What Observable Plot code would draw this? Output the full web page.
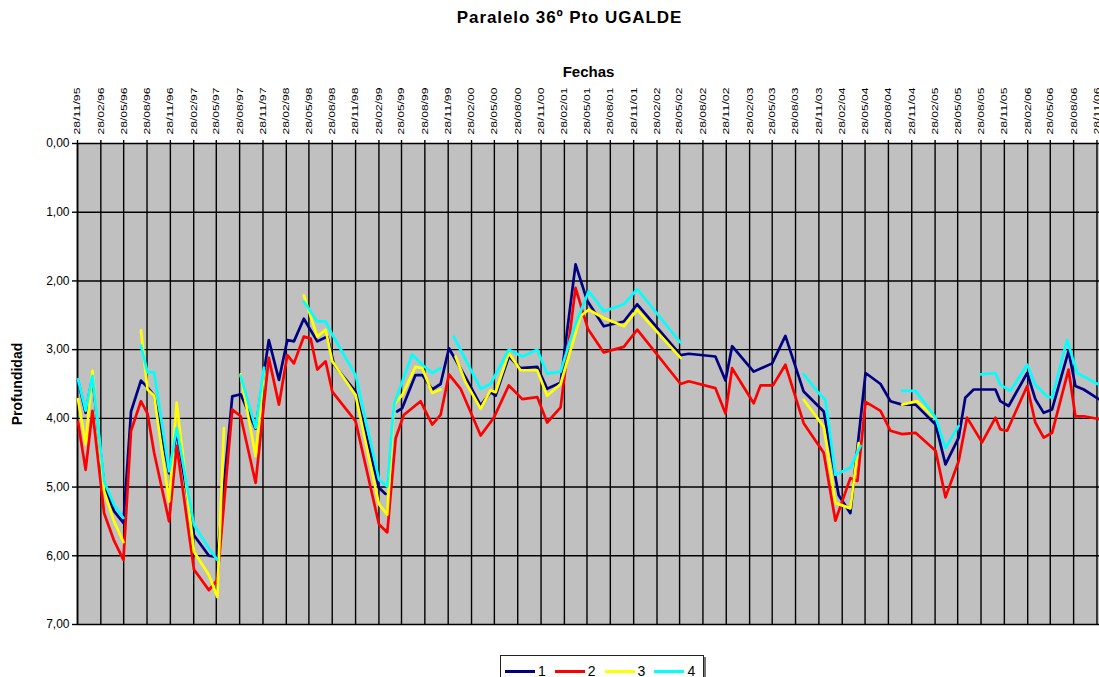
<!DOCTYPE html>
<html>
<head>
<meta charset="utf-8">
<script src="https://cdn.jsdelivr.net/npm/d3@7"></script>
<script src="https://cdn.jsdelivr.net/npm/@observablehq/plot@0.6"></script>
<style>
  body { margin: 0; background: #fff; font-family: "Liberation Sans", Arial, sans-serif; }
  #title { width: 1099px; height: 40px; box-sizing: border-box; padding-left: 40px; text-align: center;
           font-weight: bold; font-size: 17px; letter-spacing: 0.9px; line-height: 36px; color: #000; }
  #chart svg { display: block; }
  #legend { margin-left: 500px; margin-top: 21px; width: 204px; height: 32px; box-sizing: border-box;
            border: 1.5px solid #222; box-shadow: 2px 2px 0 #777; display: flex; align-items: center;
            padding-left: 4px; font-size: 14px; color: #000; }
  #legend .item { display: flex; align-items: center; margin-right: 9px; }
  #legend .sw { width: 30px; height: 3px; margin-right: 3px; }
</style>
</head>
<body>
<div id="title">Paralelo 36º Pto UGALDE</div>
<div id="chart"></div>
<div id="legend"></div>
<script>
// ---------- DATA ----------
const series = ["1", "2", "3", "4"];
const colores = ["#000080", "#ff0000", "#ffff00", "#00ffff"];

const etiquetasFechas = ["28/11/95","28/02/96","28/05/96","28/08/96","28/11/96","28/02/97","28/05/97","28/08/97","28/11/97",
  "28/02/98","28/05/98","28/08/98","28/11/98","28/02/99","28/05/99","28/08/99","28/11/99","28/02/00","28/05/00","28/08/00",
  "28/11/00","28/02/01","28/05/01","28/08/01","28/11/01","28/02/02","28/05/02","28/08/02","28/11/02","28/02/03","28/05/03",
  "28/08/03","28/11/03","28/02/04","28/05/04","28/08/04","28/11/04","28/02/05","28/05/05","28/08/05","28/11/05","28/02/06",
  "28/05/06","28/08/06","28/11/06"];
const etiquetasProf = [0, 1, 2, 3, 4, 5, 6, 7];

// serie 1
const fechas1 = ["1995-11-30","1995-12-30","1996-01-26","1996-03-12","1996-04-20","1996-05-27","1996-06-26","1996-08-04",
  "1996-08-30","1996-09-25","1996-11-23","1996-12-23","1997-03-01","1997-04-29","1997-06-01","1997-07-30","1997-09-01",
  "1997-10-30","1997-12-21","1998-01-30","1998-03-04","1998-03-30","1998-05-08","1998-06-30","1998-08-09","1998-09-04",
  "1998-11-28","1999-02-28","1999-03-26",null,"1999-05-11","1999-05-31","1999-07-22","1999-08-18","1999-09-26","1999-10-29",
  "1999-12-01","2000-02-04","2000-04-04","2000-05-13","2000-06-02","2000-07-24","2000-09-08","2000-11-13","2000-12-22",
  "2001-02-13","2001-04-13","2001-05-29","2001-08-02","2001-10-20","2001-12-12","2002-06-01","2002-07-03","2002-10-16",
  "2002-11-25","2002-12-21","2003-03-16","2003-05-28","2003-07-19","2003-09-29","2003-12-17","2004-02-14","2004-03-31",
  "2004-05-30","2004-07-28","2004-09-05","2004-10-21","2004-12-13","2005-03-02","2005-04-10","2005-06-01","2005-06-27",
  "2005-07-30","2005-10-24","2005-11-12","2005-12-15","2006-02-26","2006-03-30","2006-05-02","2006-06-04","2006-08-08",
  "2006-09-04","2006-10-07","2006-12-05"];
const prof1 = [3.45,3.92,3.40,4.98,5.35,5.52,3.90,3.45,
  3.55,3.67,4.80,4.20,5.70,6.00,6.02,3.68,3.65,
  4.15,2.86,3.44,2.86,2.88,2.55,2.88,2.81,3.22,
  3.61,5.01,5.10,null,3.90,3.85,3.37,3.37,3.58,3.50,
  2.98,3.40,3.81,3.62,3.67,3.10,3.27,3.25,3.57,
  3.48,1.76,2.29,2.66,2.59,2.34,3.08,3.06,3.10,
  3.45,2.95,3.32,3.20,2.80,3.61,3.90,5.12,5.38,
  3.34,3.50,3.75,3.80,3.80,4.09,4.67,4.28,3.70,
  3.58,3.58,3.75,3.82,3.34,3.72,3.92,3.87,3.02,
  3.53,3.58,3.72];

// serie 2
const fechas2 = ["1995-11-30","1995-12-30","1996-01-26","1996-03-12","1996-04-20","1996-05-27","1996-06-26","1996-08-04",
  "1996-08-30","1996-09-25","1996-11-23","1996-12-23","1997-03-01","1997-04-29","1997-06-01","1997-07-30","1997-09-01",
  "1997-10-30","1997-12-21","1998-01-30","1998-03-04","1998-03-30","1998-05-08","1998-06-04","1998-06-30","1998-08-02",
  "1998-08-28","1998-11-28","1999-02-28","1999-04-02","1999-05-05","1999-06-06","1999-08-11","1999-09-26","1999-10-29",
  "1999-12-01","2000-01-16","2000-04-04","2000-05-26","2000-07-24","2000-09-15","2000-11-13","2000-12-22","2001-02-13",
  "2001-04-13","2001-06-01","2001-08-02","2001-10-20","2001-12-12","2002-06-01","2002-07-03","2002-10-16","2002-11-25",
  "2002-12-21","2003-03-16","2003-04-12","2003-05-31","2003-07-19","2003-09-29","2003-12-17","2004-02-01","2004-03-31",
  "2004-04-28","2004-05-30","2004-07-28","2004-09-05","2004-10-21","2004-12-13","2005-03-02","2005-04-10","2005-06-01",
  "2005-07-04","2005-09-01","2005-10-24","2005-11-12","2005-12-09","2006-02-26","2006-03-30","2006-05-02","2006-06-04",
  "2006-08-08","2006-09-04","2006-10-07","2006-12-05"];
const prof2 = [4.05,4.75,3.89,5.38,5.78,6.06,4.18,3.75,
  3.93,4.50,5.50,4.40,6.20,6.50,6.35,3.87,3.97,
  4.94,3.12,3.80,3.08,3.20,2.81,2.84,3.29,3.17,
  3.61,4.04,5.54,5.66,4.29,3.95,3.75,4.09,3.95,
  3.36,3.57,4.25,3.99,3.52,3.72,3.69,4.06,3.84,
  2.10,2.70,3.04,2.96,2.71,3.50,3.46,3.56,3.93,
  3.27,3.78,3.52,3.52,3.22,4.07,4.50,5.49,4.87,
  4.91,3.76,3.89,4.18,4.23,4.21,4.47,5.15,4.62,
  3.99,4.35,3.99,4.16,4.18,3.53,4.06,4.28,4.21,
  3.29,3.97,3.97,4.01];

// serie 3
const fechas3 = ["1995-11-30","1995-12-30","1996-01-26","1996-03-12","1996-04-20","1996-05-27",null,"1996-08-04",
  "1996-08-30","1996-09-25","1996-11-23","1996-12-23","1997-03-01","1997-04-29","1997-06-01","1997-06-27",null,
  "1997-09-01","1997-10-30","1997-12-02",null,"1998-05-08","1998-06-30","1998-08-02","1998-08-28","1998-11-28",
  "1999-02-28","1999-04-02","1999-04-28","1999-05-31","1999-07-22","1999-08-18","1999-09-26","1999-10-29",null,
  "1999-12-27","2000-02-04","2000-04-04","2000-05-13","2000-06-02","2000-07-24","2000-09-08","2000-11-13","2000-12-22",
  "2001-02-13","2001-05-03","2001-06-04","2001-08-02","2001-10-20","2001-12-12","2002-06-01",null,"2003-09-29",
  "2003-12-17","2004-02-01","2004-03-31","2004-05-03",null,"2004-10-21","2004-12-19","2005-03-02"];
const prof3 = [3.72,4.38,3.31,5.06,5.50,5.80,null,2.72,
  3.58,3.67,5.21,3.77,5.94,6.28,6.60,4.14,null,
  3.36,4.55,3.30,null,2.21,2.81,2.71,3.17,3.66,
  5.25,5.40,3.80,3.66,3.25,3.27,3.63,3.58,null,
  3.10,3.47,3.86,3.59,3.62,3.05,3.30,3.30,3.67,
  3.50,2.51,2.42,2.54,2.66,2.42,3.12,null,3.73,
  4.12,5.23,5.31,4.36,null,3.80,3.75,4.01];

// serie 4
const fechas4 = ["1995-11-30","1995-12-30","1996-01-26","1996-03-12","1996-04-20","1996-05-27",null,"1996-08-04",
  "1996-08-30","1996-09-25","1996-11-23","1996-12-23","1997-03-01","1997-04-29","1997-06-01",null,"1997-09-01",
  "1997-10-30","1997-12-02",null,"1998-05-08","1998-06-30","1998-08-02","1998-08-28","1998-11-28","1999-02-28",
  "1999-04-02","1999-04-28","1999-07-09","1999-08-18","1999-09-26","1999-10-29",null,"1999-12-20","2000-04-04",
  "2000-05-13","2000-07-24","2000-09-15","2000-11-13","2000-12-22","2001-02-13","2001-04-06","2001-06-04","2001-08-02",
  "2001-10-20","2001-12-12","2002-06-01",null,"2003-09-29","2003-12-04","2003-12-24","2004-02-01","2004-03-31",
  "2004-05-10",null,"2004-10-21","2004-12-13","2005-03-02","2005-04-10","2005-06-01",null,"2005-08-26","2005-10-24",
  "2005-11-12","2005-12-22","2006-02-26","2006-03-30","2006-05-15","2006-06-04","2006-08-02","2006-09-11","2006-12-05"];
const prof4 = [3.43,3.89,3.38,4.92,5.26,5.45,null,2.94,
  3.33,3.33,4.77,4.14,5.55,5.89,6.06,null,3.38,
  4.14,3.26,null,2.30,2.59,2.59,2.78,3.37,4.89,
  4.99,3.80,3.07,3.22,3.34,3.27,null,2.81,3.57,
  3.50,3.00,3.10,3.00,3.35,3.32,2.69,2.15,2.44,
  2.34,2.12,2.90,null,3.36,3.66,3.73,4.82,4.72,
  4.40,null,3.60,3.60,3.99,4.43,4.11,null,3.36,3.34,
  3.51,3.60,3.22,3.51,3.68,3.70,2.86,3.34,3.51];

// ---------- BUILD ----------
const parseISO = d3.utcParse("%Y-%m-%d");
const parseEtiq = d3.utcParse("%d/%m/%y");
const fmtEtiq = d3.utcFormat("%d/%m/%y");
const tickDates = etiquetasFechas.map(parseEtiq);

function filas(fechas, prof, serie) {
  let prev = null;
  return fechas.map((f, i) => {
    const fecha = f ? parseISO(f) : prev;
    prev = fecha;
    return { fecha, prof: prof[i], serie };
  });
}
const datos = [
  filas(fechas1, prof1, series[0]),
  filas(fechas2, prof2, series[1]),
  filas(fechas3, prof3, series[2]),
  filas(fechas4, prof4, series[3])
];

const xStart = parseISO("1995-11-28");
const xEnd = parseISO("2006-12-08");

const chart = Plot.plot({
  width: 1099,
  height: 594,
  marginTop: 103,
  marginBottom: 10,
  marginLeft: 77,
  marginRight: 0,
  style: { fontFamily: "'Liberation Sans', Arial, sans-serif", background: "white", overflow: "visible", color: "#000" },
  x: { type: "utc", domain: [xStart, xEnd] },
  y: { domain: [0, 7], reverse: true },
  marks: [
    Plot.frame({ fill: "#c0c0c0", stroke: null }),
    Plot.gridX(tickDates, { stroke: "#000", strokeOpacity: 1, strokeWidth: 1.4 }),
    Plot.gridY(etiquetasProf, { stroke: "#000", strokeOpacity: 1, strokeWidth: 1.4 }),
    Plot.ruleX([xStart], { stroke: "#000", strokeWidth: 1.6 }),
    ...datos.map((d, i) => Plot.line(d, { x: "fecha", y: "prof", stroke: colores[i], strokeWidth: 2.7, curve: "linear" })),
    Plot.axisX(tickDates, {
      anchor: "top", tickSize: 4, tickPadding: 5, tickRotate: -90, fontSize: 9,
      tickFormat: (d) => etiquetasFechas[tickDates.findIndex(t => +t === +d)] ?? fmtEtiq(d),
      label: null, stroke: "#000", strokeWidth: 1.4
    }),
    Plot.axisY(etiquetasProf, {
      anchor: "left", tickSize: 5, tickPadding: 3, fontSize: 12,
      tickFormat: (d) => d.toFixed(2).replace(".", ","), label: null, stroke: "#000", strokeWidth: 1.4
    }),
    Plot.text(["Fechas"], { frameAnchor: "top", dy: -77, fontWeight: "bold", fontSize: 15 }),
    Plot.text(["Profundidad"], { frameAnchor: "left", dx: -60, rotate: -90, textAnchor: "middle", fontWeight: "bold", fontSize: 14 })
  ]
});

// stretch the rotated date labels like the original (narrow, elongated glyphs)
d3.select(chart).selectAll('g[aria-label="x-axis tick label"] text')
  .attr("textLength", 47).attr("lengthAdjust", "spacingAndGlyphs");

document.getElementById("chart").appendChild(chart);

// legend
const leg = d3.select("#legend");
series.forEach((s, i) => {
  const it = leg.append("div").attr("class", "item");
  it.append("div").attr("class", "sw").style("background", colores[i]);
  it.append("span").text(s);
});
</script>
</body>
</html>
